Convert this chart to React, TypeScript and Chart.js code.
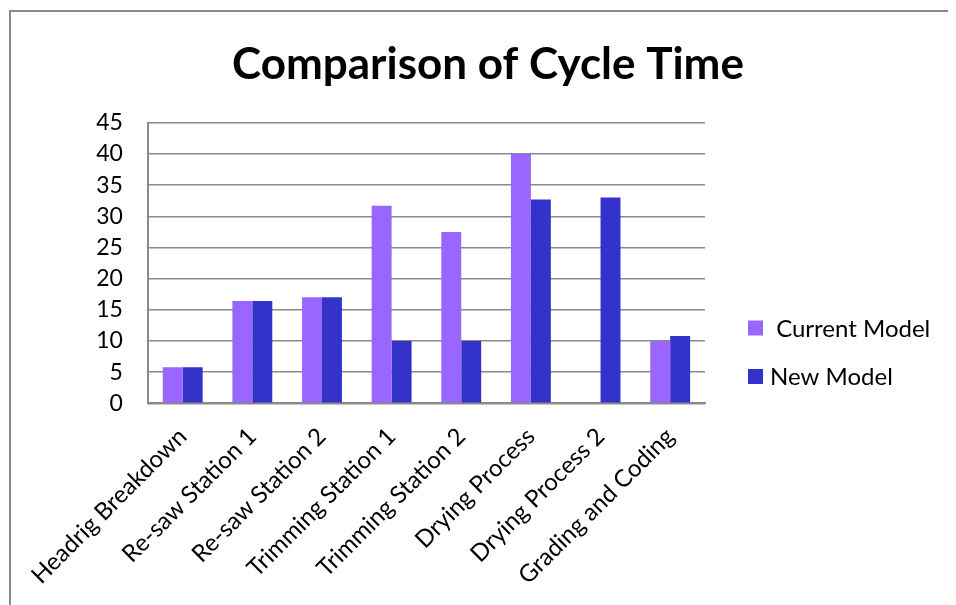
import React, { useEffect, useRef } from "react";
import { Chart, registerables } from "chart.js";

Chart.register(...registerables);

// Stations along the sawmill line
const stations = [
  "Headrig Breakdown",
  "Re-saw Station 1",
  "Re-saw Station 2",
  "Trimming Station 1",
  "Trimming Station 2",
  "Drying Process",
  "Drying Process 2",
  "Grading and Coding",
];

// Cycle time per station
const currentModel = [5.8, 16.4, 17, 31.7, 27.5, 40, 0, 10];
const newModel = [5.8, 16.4, 17, 10, 10, 32.7, 33, 10.8];

const seriesNames = [" Current Model", "New Model"];
const seriesColors = ["#9966ff", "#3333cc"];

const yMin = 0;
const yMax = 45;
const yStep = 5;

const FONT = "Lato, 'Open Sans', sans-serif";

// Legend drawn to the right of the plot, one row per series
const sideLegend = {
  id: "sideLegend",
  afterDraw(chart: Chart) {
    const ctx = chart.ctx;
    const x0 = 740;
    const y0 = 312.5;
    const gap = 48.5;
    const box = 15;
    ctx.save();
    ctx.font = `24px ${FONT}`;
    ctx.textBaseline = "middle";
    ctx.textAlign = "left";
    chart.data.datasets.forEach((ds, i) => {
      const top = y0 + i * gap;
      ctx.fillStyle = ds.backgroundColor as string;
      ctx.fillRect(x0, top, box, box);
      ctx.fillStyle = "#000";
      ctx.fillText(ds.label as string, x0 + box + 7, top + box / 2 + 1);
    });
    ctx.restore();
  },
};

export default function App() {
  const canvasRef = useRef<HTMLCanvasElement | null>(null);

  useEffect(() => {
    if (!canvasRef.current) return;
    const chart = new Chart(canvasRef.current, {
      type: "bar",
      data: {
        labels: stations,
        datasets: [
          {
            label: seriesNames[0],
            data: currentModel,
            backgroundColor: seriesColors[0],
            categoryPercentage: 0.573,
            barPercentage: 1,
          },
          {
            label: seriesNames[1],
            data: newModel,
            backgroundColor: seriesColors[1],
            categoryPercentage: 0.573,
            barPercentage: 1,
          },
        ],
      },
      options: {
        responsive: false,
        animation: false,
        layout: { padding: { top: 0, left: 20, right: 0, bottom: 0 } },
        plugins: {
          legend: { display: false },
          tooltip: { enabled: false },
          title: {
            display: true,
            text: "Comparison of Cycle Time",
            color: "#000",
            font: { family: FONT, size: 44, weight: "bold" },
            padding: { top: 30, bottom: 32 },
          },
        },
        scales: {
          y: {
            min: yMin,
            max: yMax,
            ticks: {
              stepSize: yStep,
              color: "#000",
              font: { family: FONT, size: 23 },
              padding: 25,
            },
            grid: { color: "#8a8a8a", lineWidth: 1.5, drawTicks: false },
            border: { color: "#8a8a8a", width: 2 },
            afterFit(scale: any) {
              scale.width = 119;
            },
          },
          // empty right-hand axis that keeps room for the legend
          legendSpace: {
            type: "linear",
            position: "right",
            grid: { display: false, drawTicks: false },
            border: { display: false },
            ticks: { display: false },
            afterFit(scale: any) {
              scale.width = 243;
            },
          },
          x: {
            ticks: {
              color: "#000",
              font: { family: FONT, size: 24 },
              minRotation: 45,
              maxRotation: 45,
              padding: 19,
              autoSkip: false,
            },
            grid: { display: false, drawTicks: false },
            border: { color: "#8a8a8a", width: 2 },
            afterFit(scale: any) {
              scale.height = 201.7;
            },
          },
        },
      },
      plugins: [sideLegend],
    });
    return () => chart.destroy();
  }, []);

  return (
    <div style={{ position: "relative", width: 940, height: 597, overflow: "hidden" }}>
      <div
        style={{
          position: "absolute",
          left: 1,
          top: 2,
          width: 1000,
          height: 1000,
          borderTop: "2px solid #8a8a8a",
          borderLeft: "2px solid #8a8a8a",
        }}
      />
      <canvas
        ref={canvasRef}
        width={940}
        height={597}
        style={{ position: "absolute", left: 0, top: 0 }}
      />
    </div>
  );
}
